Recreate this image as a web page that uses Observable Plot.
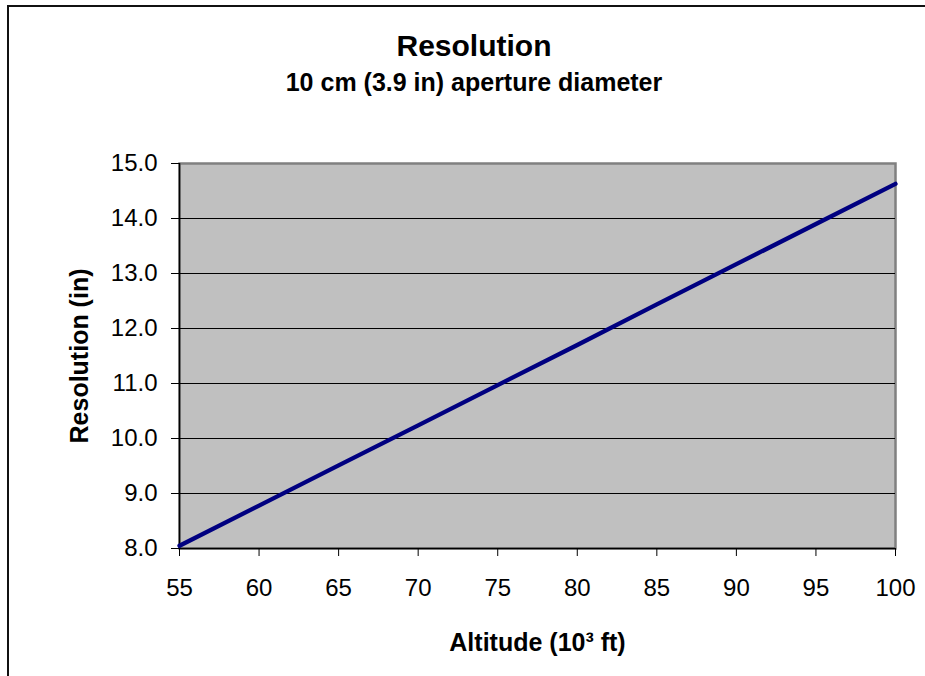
<!DOCTYPE html>
<html>
<head>
<meta charset="utf-8">
<script src="https://cdn.jsdelivr.net/npm/d3@7"></script>
<script src="https://cdn.jsdelivr.net/npm/@observablehq/plot@0.6"></script>
<style>
  html, body { margin: 0; padding: 0; background: #fff; overflow: hidden; }
  #wrap { position: relative; width: 925px; height: 676px; overflow: hidden; font-family: "Liberation Sans", Arial, sans-serif; }
  #frameL { position: absolute; left: 7px; top: 5px; width: 2px; height: 700px; background: #111; }
  #frameT { position: absolute; left: 7px; top: 5px; width: 940px; height: 2px; background: #111; }
  #head { position: relative; height: 110px; width: 925px; }
  #title { position: absolute; left: 0; width: 948px; top: 31px; text-align: center; font-weight: bold; font-size: 30px; line-height: 30px; color: #000; }
  #subtitle { position: absolute; left: 0; width: 948px; top: 70px; text-align: center; font-weight: bold; font-size: 25px; line-height: 25px; color: #000; }
  #chart { position: relative; }
</style>
</head>
<body>
<div id="wrap">
  <div id="frameL"></div>
  <div id="frameT"></div>
  <div id="head">
    <div id="title">Resolution</div>
    <div id="subtitle">10 cm (3.9 in) aperture diameter</div>
  </div>
  <div id="chart"></div>
</div>
<script>
const altitude = [55, 60, 65, 70, 75, 80, 85, 90, 95, 100];
const resolution = [8.05, 8.78, 9.51, 10.24, 10.97, 11.70, 12.44, 13.17, 13.90, 14.63];
const xTicks = [55, 60, 65, 70, 75, 80, 85, 90, 95, 100];
const yTicks = [8, 9, 10, 11, 12, 13, 14, 15];
const gridTicks = [9, 10, 11, 12, 13, 14];

const data = altitude.map((a, i) => ({altitude: a, resolution: resolution[i]}));

const chart = Plot.plot({
  width: 925,
  height: 566,
  marginTop: 53,
  marginBottom: 128,
  marginLeft: 179,
  marginRight: 30,
  style: {fontFamily: "'Liberation Sans', Arial, sans-serif", fontSize: "24px", color: "#000", background: "transparent"},
  x: {domain: [55, 100]},
  y: {domain: [8, 15]},
  marks: [
    Plot.frame({fill: "#c0c0c0", stroke: "#808080", strokeWidth: 2.5}),
    Plot.gridY(gridTicks, {stroke: "#000", strokeOpacity: 1, strokeWidth: 1}),
    Plot.ruleX([55], {stroke: "#000", strokeWidth: 1.5}),
    Plot.ruleY([8], {stroke: "#000", strokeWidth: 1.5}),
    Plot.axisY({
      ticks: yTicks, tickFormat: d3.format(".1f"), tickSize: 8, tickPadding: 14,
      fontSize: 24, label: "Resolution (in)", labelAnchor: "center", labelOffset: 109,
      labelArrow: "none"
    }),
    Plot.axisX({
      ticks: xTicks, tickFormat: d => String(d), tickSize: 8, tickPadding: 22,
      fontSize: 24, label: "Altitude (10³ ft)", labelAnchor: "center", labelOffset: 102,
      labelArrow: "none"
    }),
    Plot.line(data, {x: "altitude", y: "resolution", stroke: "#000080", strokeWidth: 4.3})
  ]
});
chart.querySelectorAll("g[aria-label='x-axis label'] text, g[aria-label='y-axis label'] text").forEach(t => {
  t.style.fontWeight = "bold";
  t.style.fontSize = "25px";
});
document.getElementById("chart").appendChild(chart);
</script>
</body>
</html>
